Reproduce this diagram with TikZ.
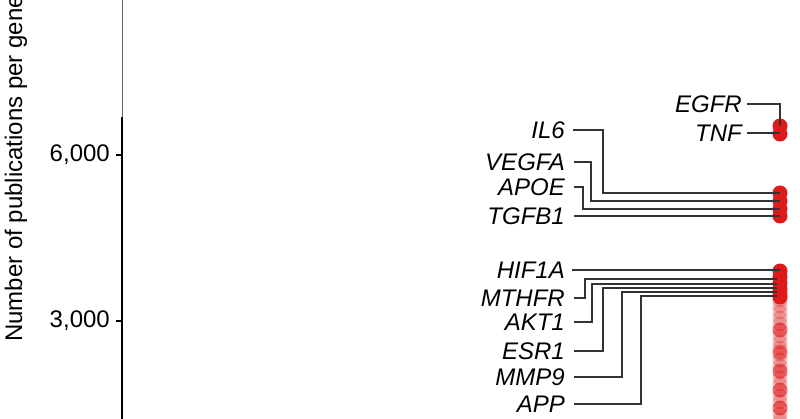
\documentclass[tikz,border=0pt]{standalone}
\usepackage{fontspec}
\setmainfont{Liberation Sans}
\begin{document}
\begin{tikzpicture}[x=1pt,y=-1pt,
  lab/.style={font=\fontsize{24}{28}\selectfont\itshape, anchor=east, inner sep=0pt},
  tick/.style={font=\fontsize{24}{28}\selectfont, anchor=east, inner sep=0pt},
  con/.style={draw=black!80, line width=1.1pt},
  dot/.style={circle, fill=red!85!black!90, draw=none, minimum size=15pt, inner sep=0pt},
  fdot/.style={circle, fill=red!85!black, fill opacity=0.25, draw=none, minimum size=15pt, inner sep=0pt}]
\useasboundingbox (0,0) rectangle (800,419);
\clip (0,0) rectangle (800,419);
% axis
\draw[black!60, line width=0.6pt] (122,-5) -- (122,117);
\draw[black, line width=2pt] (122,117) -- (122,425);
\draw[line width=1.5pt] (116,155) -- (122,155);
\draw[line width=1.5pt] (116,321) -- (122,321);
\node[tick] (t9) at (110,-11) {9,000};
\node[tick] (t6) at (110,155) {6,000};
\node[tick] (t3) at (110,321) {3,000};
\node[font=\fontsize{24}{28}\selectfont, rotate=90, anchor=base west, inner sep=0pt] (yl) at (22,342) {Number of publications per gene};
% faded dots
\foreach \y in {300,306,...,425} {\node[fdot] at (780,\y) {};}
\foreach \y in {330,352,371,390,408} {\node[fdot, fill opacity=0.4] at (780,\y) {};}
% main dots
\foreach \n/\y in {d1/126,d2/134,d3/193,d4/201,d5/209,d6/216,d7/271,d8/277,d9/283,d10/289,d11/294,d12/297} {\node[dot] (\n) at (780,\y) {};}
% labels
\node[lab] (egfr) at (742,104) {EGFR};
\node[lab] (tnf) at (742,133) {TNF};
\node[lab] (il6) at (565,130) {IL6};
\node[lab] (vegfa) at (565,162) {VEGFA};
\node[lab] (apoe) at (565,187) {APOE};
\node[lab] (tgfb1) at (565,216) {TGFB1};
\node[lab] (hif) at (565,270) {HIF1A};
\node[lab] (mthfr) at (565,298) {MTHFR};
\node[lab] (akt) at (565,322) {AKT1};
\node[lab] (esr) at (565,351) {ESR1};
\node[lab] (mmp) at (565,377) {MMP9};
\node[lab] (app) at (565,404) {APP};
% connectors
\draw[con] ([xshift=5pt]egfr.east) -| (d1.center);
\draw[con] ([xshift=5pt]tnf.east) -- (tnf.east -| d2.center);
\draw[con] ([xshift=8pt]il6.east) -- (603,130) |- (d3.center);
\draw[con] ([xshift=9pt]vegfa.east) -- (591,162) |- (d4.center);
\draw[con] ([xshift=9pt]apoe.east) -- (583,187) |- (d5.center);
\draw[con] ([xshift=9pt]tgfb1.east) -- (tgfb1.east -| d6.center);
\draw[con] ([xshift=7pt]hif.east) -- (hif.east -| d7.center);
\draw[con] ([xshift=9pt]mthfr.east) -- (585,298) |- (777,279);
\draw[con] ([xshift=9pt]akt.east) -- (592,322) |- (777,284);
\draw[con] ([xshift=9pt]esr.east) -- (603,351) |- (777,288);
\draw[con] ([xshift=9pt]mmp.east) -- (622,377) |- (777,292);
\draw[con] ([xshift=9pt]app.east) -- (641,404) |- (777,296);
\end{tikzpicture}
\end{document}
